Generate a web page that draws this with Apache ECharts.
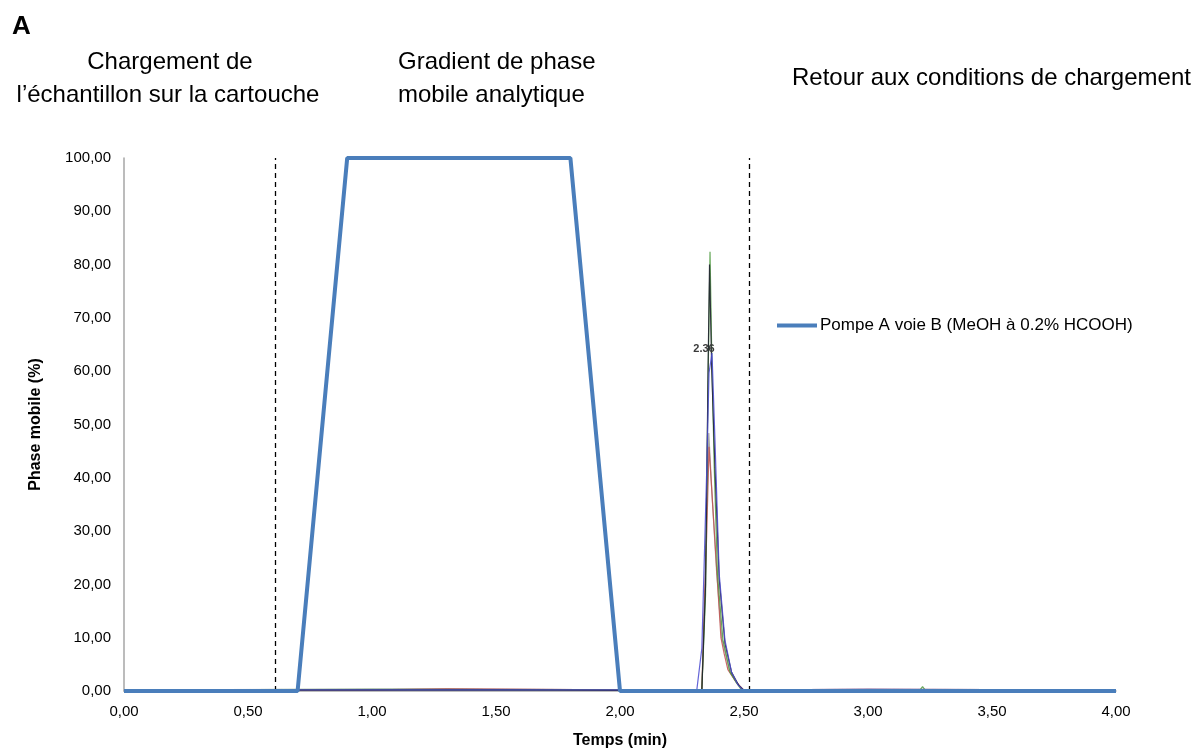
<!DOCTYPE html>
<html><head><meta charset="utf-8">
<script src="https://cdn.jsdelivr.net/npm/echarts@6/dist/echarts.min.js"></script>
<style>html,body{margin:0;padding:0;background:#fff}#c{width:1199px;height:756px}</style>
</head><body><div id="c"></div>
<script>
// ---- data ----
const xTicks = [0, 0.5, 1, 1.5, 2, 2.5, 3, 3.5, 4];
const yTicks = [0, 10, 20, 30, 40, 50, 60, 70, 80, 90, 100];
const gradientName = 'Pompe A voie B (MeOH à 0.2% HCOOH)';
const gradientTime = [0, 0.70, 0.90, 1.80, 2.00, 4.00];
const gradientB = [0, 0, 100, 100, 0, 0];
const phaseLimits = [0.613, 2.524];
const peakLabel = '2.36';

const greyTime = [0, 0.8, 1.3, 2.0, 2.33, 2.345, 2.358, 2.372, 2.39, 2.41, 2.44, 2.47, 2.50, 3.0, 4.0];
const greyVal  = [0.2, 0.3, 0.4, 0.2, 0.2, 25, 48.4, 36, 22, 10, 4, 1.5, 0.2, 0.3, 0.2];
const redTime  = [0, 1.0, 1.3, 2.0, 2.33, 2.35, 2.359, 2.375, 2.391, 2.407, 2.42, 2.435, 2.464, 2.496, 3.0, 4.0];
const redVal   = [0.2, 0.2, 0.4, 0.2, 0.2, 30, 45.8, 34, 22, 10, 7, 4, 2, 0.2, 0.3, 0.2];
const greenTime = [0, 1.0, 2.0, 2.33, 2.345, 2.355, 2.363, 2.37, 2.38, 2.393, 2.415, 2.444, 2.47, 2.49, 3.21, 3.22, 3.23, 4.0];
const greenVal  = [0.2, 0.3, 0.2, 0.2, 18, 58, 82.4, 63, 42, 22, 9.6, 3.5, 1.5, 0.2, 0.2, 0.8, 0.2, 0.2];
const blackTime = [0, 1.5, 2.0, 2.33, 2.345, 2.355, 2.361, 2.37, 2.383, 2.40, 2.423, 2.45, 2.48, 2.50, 4.0];
const blackVal  = [0.1, 0.2, 0.1, 0.1, 20, 60, 80, 60, 42, 21, 9, 3.5, 1, 0.1, 0.1];
const blueTime = [0, 1.0, 2.0, 2.31, 2.33, 2.35, 2.359, 2.371, 2.383, 2.40, 2.423, 2.45, 2.475, 2.496, 3.0, 4.0];
const blueVal  = [0.2, 0.2, 0.2, 0.3, 8, 42, 59.7, 63.4, 47, 22, 9.6, 3.5, 1.2, 0.2, 0.3, 0.2];

// ---- chart ----
function pairs(t, v) { return t.map((x, i) => [x, v[i]]); }
function fmt(v) { return v.toFixed(2).replace('.', ','); }
const FONT = 'Liberation Sans';

function trace(name, t, v, color, labelPeak) {
  const s = {type: 'line', name: name, data: pairs(t, v), showSymbol: false, symbol: 'none', silent: true,
    lineStyle: {width: 1.2, color: color, opacity: 0.85}, itemStyle: {color: color}, z: 2};
  if (labelPeak) {
    const m = v.indexOf(Math.max(...v));
    s.markPoint = {silent: true, symbol: 'circle', symbolSize: 1, itemStyle: {color: 'rgba(0,0,0,0)'},
      data: [{coord: [t[m], v[m]], label: {show: true, formatter: peakLabel, position: 'top', distance: 0,
        offset: [-8, 2], fontSize: 11, fontWeight: 'bold', color: '#3a3a3a', fontFamily: FONT}}]};
  }
  return s;
}

const chart = echarts.init(document.getElementById('c'));
chart.setOption({
  animation: false,
  backgroundColor: '#fff',
  grid: {left: 124, right: 83, top: 158, bottom: 65, containLabel: false},
  xAxis: {type: 'value', min: 0, max: 4, interval: 0.5,
    name: 'Temps (min)', nameLocation: 'middle', nameGap: 42,
    nameTextStyle: {fontFamily: FONT, fontWeight: 'bold', fontSize: 16, color: '#000'},
    axisLine: {lineStyle: {color: '#a6a6a6', width: 1.5}}, axisTick: {show: false}, splitLine: {show: false},
    axisLabel: {formatter: v => xTicks.includes(v) ? fmt(v) : '', fontFamily: FONT, fontSize: 15, color: '#000', margin: 13}},
  yAxis: {type: 'value', min: 0, max: 100, interval: 10,
    name: 'Phase mobile (%)', nameLocation: 'middle', nameGap: 80, nameRotate: 90,
    nameTextStyle: {fontFamily: FONT, fontWeight: 'bold', fontSize: 16, color: '#000'},
    axisLine: {show: true, lineStyle: {color: '#a6a6a6', width: 1.5}}, axisTick: {show: false}, splitLine: {show: false},
    axisLabel: {formatter: v => yTicks.includes(v) ? fmt(v) : '', fontFamily: FONT, fontSize: 15, color: '#000', margin: 13}},
  legend: {data: [gradientName], left: 772, top: 312, icon: 'rect', itemWidth: 40, itemHeight: 4, itemGap: 4,
    textStyle: {fontFamily: FONT, fontSize: 17, color: '#000', padding: [0, 0, 0, -2]}},
  series: [
    trace('grey', greyTime, greyVal, '#9a9a9a'),
    trace('red', redTime, redVal, '#c0504d'),
    trace('green', greenTime, greenVal, '#4e9a3e'),
    trace('black', blackTime, blackVal, '#1a1a2a'),
    trace('blue', blueTime, blueVal, '#4a4ad0', true),
    {type: 'line', name: gradientName, data: pairs(gradientTime, gradientB), showSymbol: false, symbol: 'none',
      lineStyle: {width: 4, color: '#4a7ebb'}, itemStyle: {color: '#4a7ebb'}, z: 5,
      markLine: {silent: true, symbol: 'none', label: {show: false},
        lineStyle: {type: [5, 4], color: '#000', width: 1.3},
        data: phaseLimits.map(x => ({xAxis: x}))}}
  ],
  graphic: [
    {type: 'text', left: 12, top: 14, style: {text: 'A', font: 'bold 26px "Liberation Sans"', fill: '#000'}},
    {type: 'text', x: 170, y: 50, style: {text: 'Chargement de', font: '24px "Liberation Sans"', fill: '#000', textAlign: 'center'}},
    {type: 'text', x: 168, y: 83, style: {text: 'l’échantillon sur la cartouche', font: '24px "Liberation Sans"', fill: '#000', textAlign: 'center'}},
    {type: 'text', x: 398, y: 50, style: {text: 'Gradient de phase', font: '24px "Liberation Sans"', fill: '#000'}},
    {type: 'text', x: 398, y: 83, style: {text: 'mobile analytique', font: '24px "Liberation Sans"', fill: '#000'}},
    {type: 'text', x: 792, y: 66, style: {text: 'Retour aux conditions de chargement', font: '24px "Liberation Sans"', fill: '#000'}}
  ]
});
</script></body></html>
